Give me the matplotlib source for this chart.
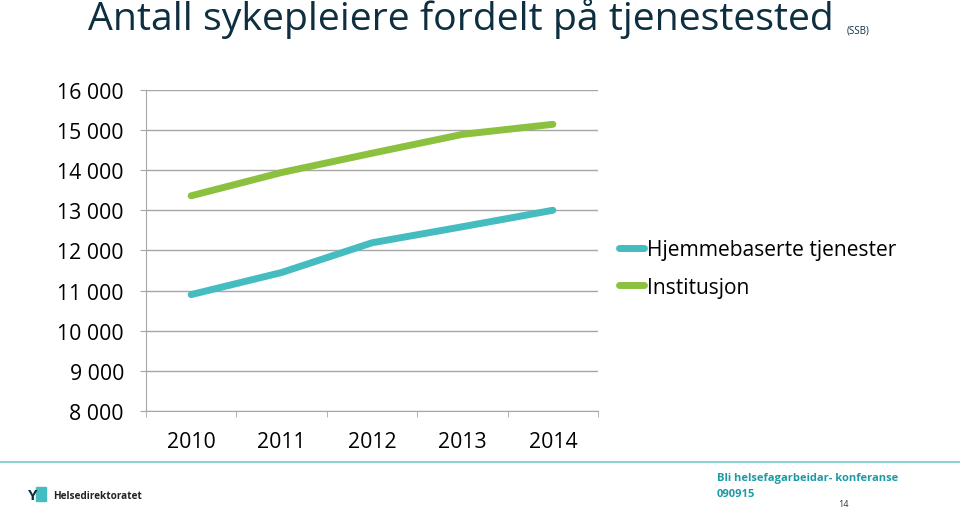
import matplotlib.pyplot as plt
from matplotlib.lines import Line2D
from matplotlib.patches import Rectangle

years = ['2010', '2011', '2012', '2013', '2014']
hjemme = [10900, 11450, 12190, 12590, 13000]
institusjon = [13360, 13940, 14420, 14890, 15140]
yticks = [8000, 9000, 10000, 11000, 12000, 13000, 14000, 15000, 16000]
ylabels = ['8 000', '9 000', '10 000', '11 000', '12 000', '13 000', '14 000', '15 000', '16 000']

TEAL = '#45BCBF'
GREEN = '#8CC13F'
GRID = '#A6A6A6'
FONT = ['Open Sans', 'DejaVu Sans']

plt.rcParams['font.family'] = FONT

fig = plt.figure(figsize=(9.6, 5.1), dpi=100)
ax = fig.add_axes([0.152, 0.192, 0.471, 0.630])

x = list(range(len(years)))
ax.plot(x, hjemme, color=TEAL, linewidth=5, solid_capstyle='round', label='Hjemmebaserte tjenester')
ax.plot(x, institusjon, color=GREEN, linewidth=5, solid_capstyle='round', label='Institusjon')

ax.set_xlim(-0.5, len(years) - 0.5)
ax.set_ylim(8000, 16000)
ax.set_yticks(yticks)
ax.set_yticklabels(ylabels, fontsize=15.3)
ax.set_xticks(x)
ax.set_xticklabels(years, fontsize=15.3)
ax.set_xticks([i - 0.5 for i in range(len(years) + 1)], minor=True)
ax.tick_params(axis='x', which='major', length=0, pad=14)
ax.tick_params(axis='x', which='minor', length=4.3, color=GRID, direction='out')
ax.tick_params(axis='y', length=4.3, color=GRID, direction='out', pad=11.5)
ax.grid(axis='y', color=GRID, linewidth=1)
ax.set_axisbelow(True)
for s in ['top', 'right']:
    ax.spines[s].set_visible(False)
for s in ['left', 'bottom']:
    ax.spines[s].set_color(GRID)

handles = [Line2D([0], [0], color=TEAL, linewidth=5, solid_capstyle='round'),
           Line2D([0], [0], color=GREEN, linewidth=5, solid_capstyle='round')]
fig.legend(handles, ['Hjemmebaserte tjenester', 'Institusjon'], loc='center left',
           bbox_to_anchor=(0.645, 0.472), frameon=False, fontsize=15.1,
           borderpad=0, borderaxespad=0,
           handlelength=1.2, handletextpad=0.12, labelspacing=0.8)

# title
fig.text(0.092, 0.941, 'Antall sykepleiere fordelt på tjenestested', fontsize=28.3,
         color='#0E2F40', va='baseline', ha='left')
fig.text(0.882, 0.94, '(SSB)', fontsize=7, color='#0E2F40', va='center')

# footer
fig.add_artist(Line2D([0, 1], [0.092, 0.092], color='#8FD3D0', linewidth=1.5))
fig.add_artist(Rectangle((0.038, 0.016), 0.010, 0.027, color=TEAL))
fig.text(0.029, 0.027, 'Y', fontsize=11, color='#0E2F40', va='center', fontweight='bold')
fig.text(0.055, 0.026, 'Helsedirektoratet', fontsize=7.2, color='#222222', va='center', fontweight='bold')
fig.text(0.747, 0.062, 'Bli helsefagarbeidar- konferanse', fontsize=8.0, color='#1C9AA5',
         va='center', fontweight='bold')
fig.text(0.747, 0.031, '090915', fontsize=8.0, color='#1C9AA5', va='center', fontweight='bold')
fig.text(0.873, 0.01, '14', fontsize=6.5, color='#333333', va='center')

fig.savefig('out.png', dpi=100)
